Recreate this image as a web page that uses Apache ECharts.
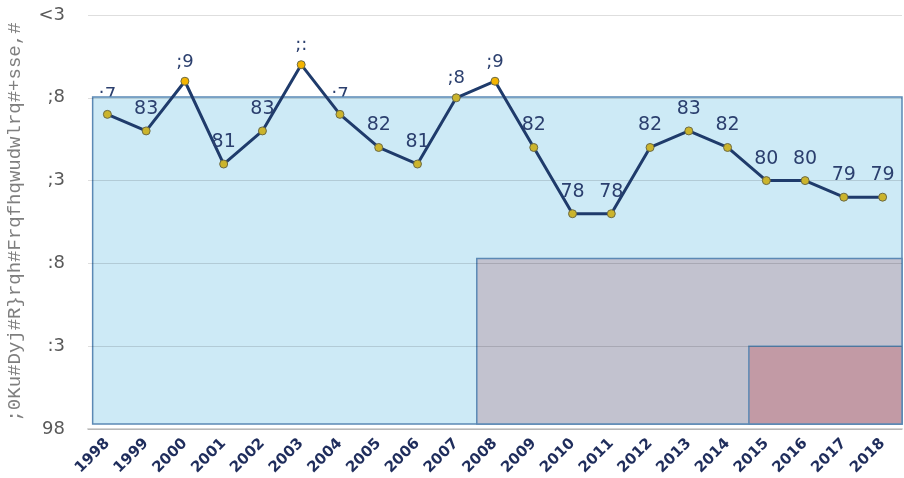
<!DOCTYPE html>
<html>
<head>
<meta charset="utf-8">
<script src="https://cdn.jsdelivr.net/npm/echarts@6/dist/echarts.min.js"></script>
<style>
  html, body { margin: 0; padding: 0; background: #fff; }
  #chart { width: 904px; height: 478px; }
</style>
</head>
<body>
<div id="chart"></div>
<script>
// years on the x axis
const years = [1998, 1999, 2000, 2001, 2002, 2003, 2004, 2005, 2006, 2007, 2008,
  2009, 2010, 2011, 2012, 2013, 2014, 2015, 2016, 2017, 2018]
// 8-hr ozone values (ppb)
const ozone = [84, 83, 86, 81, 83, 87, 84, 82, 81, 85, 86,
  82, 78, 78, 82, 83, 82, 80, 80, 79, 79]
// point labels as they appear in the picture
const pointLabels = [';7', '83', ';9', '81', '83', ';:', ';7', '82', '81', ';8', ';9',
  '82', '78', '78', '82', '83', '82', '80', '80', '79', '79']
// y tick values and their printed text
const yTicks = [65, 70, 75, 80, 85, 90]
const yTickLabels = ['98', ':3', ':8', ';3', ';8', '<3']
const yAxisTitle = ';0Ku#Dyj#R}rqh#Frqfhqwudwlrq#+sse,#'

const chart = echarts.init(document.getElementById('chart'))

const isGarbled = s => /[:;<]/.test(s)

const lineData = years.map((y, i) => ({
  value: [y, ozone[i]],
  itemStyle: { color: ozone[i] > 85 ? '#f4b400' : '#cbb42c' },
  label: { show: !isGarbled(pointLabels[i]), formatter: pointLabels[i] }
}))
// labels drawn under the standard boxes (the garbled ones)
const lowLabelData = years.map((y, i) => ({
  value: [y, ozone[i]],
  label: { show: isGarbled(pointLabels[i]), formatter: pointLabels[i] }
}))

const option = {
  animation: false,
  grid: { left: 88, right: 2, top: 15, bottom: 49, outerBoundsMode: 'none', containLabel: false },
  xAxis: {
    type: 'value',
    min: 1997.5,
    max: 2018.5,
    axisLine: { show: true, lineStyle: { color: '#d4d4d4', width: 2 } },
    axisTick: { show: false },
    splitLine: { show: false },
    axisLabel: {
      customValues: years,
      rotate: 45,
      margin: 12,
      fontSize: 15,
      fontWeight: 'bold',
      fontFamily: 'DejaVu Sans',
      color: '#1f2d5c',
      formatter: v => String(v)
    }
  },
  yAxis: {
    type: 'value',
    min: 65,
    max: 90,
    interval: 5,
    z: 2.5,
    name: yAxisTitle,
    nameLocation: 'middle',
    nameGap: 64,
    nameTextStyle: { fontFamily: 'Liberation Mono', fontSize: 19, color: '#7f7f7f' },
    axisLine: { show: false },
    axisTick: { show: false },
    axisLabel: {
      margin: 23,
      fontSize: 18,
      fontFamily: 'DejaVu Sans',
      color: '#595959',
      formatter: v => yTickLabels[yTicks.indexOf(v)] || ''
    },
    splitLine: { lineStyle: { color: 'rgba(0,0,0,0.13)', width: 1 } }
  },
  series: [
    {
      // garbled labels, hidden partly by the boxes
      type: 'line',
      z: 1,
      data: lowLabelData,
      symbol: 'circle',
      symbolSize: 8,
      showSymbol: true,
      itemStyle: { color: 'rgba(0,0,0,0)', borderWidth: 0 },
      lineStyle: { width: 0, color: 'rgba(0,0,0,0)' },
      label: {
        position: 'top',
        distance: 6,
        fontSize: 18,
        fontFamily: 'DejaVu Sans',
        color: '#2b3f6e'
      },
      silent: true
    },
    {
      // standard boxes
      type: 'line',
      z: 2,
      data: [],
      markArea: {
        silent: true,
        z: 2,
        data: [
          [{ xAxis: 1997.62, yAxis: 85.05, itemStyle: { color: '#cdeaf6' } },
           { xAxis: 2018.6, yAxis: 65.3 }],
          [{ xAxis: 2007.53, yAxis: 75.3, itemStyle: { color: '#c2c2cf' } },
           { xAxis: 2018.6, yAxis: 65.3 }],
          [{ xAxis: 2014.55, yAxis: 70, itemStyle: { color: '#c29aa5' } },
           { xAxis: 2018.6, yAxis: 65.3 }]
        ],
        itemStyle: { borderColor: '#5b89b5', borderWidth: 1.5 }
      }
    },
    {
      type: 'line',
      z: 3,
      data: lineData,
      symbol: 'circle',
      symbolSize: 8,
      lineStyle: { color: '#1f3b6b', width: 3 },
      itemStyle: { borderColor: '#6b6a45', borderWidth: 1 },
      label: {
        position: 'top',
        distance: 8,
        fontSize: 19,
        fontFamily: 'DejaVu Sans',
        color: '#2b3f6e'
      }
    }
  ]
}

chart.setOption(option)
</script>
</body>
</html>
